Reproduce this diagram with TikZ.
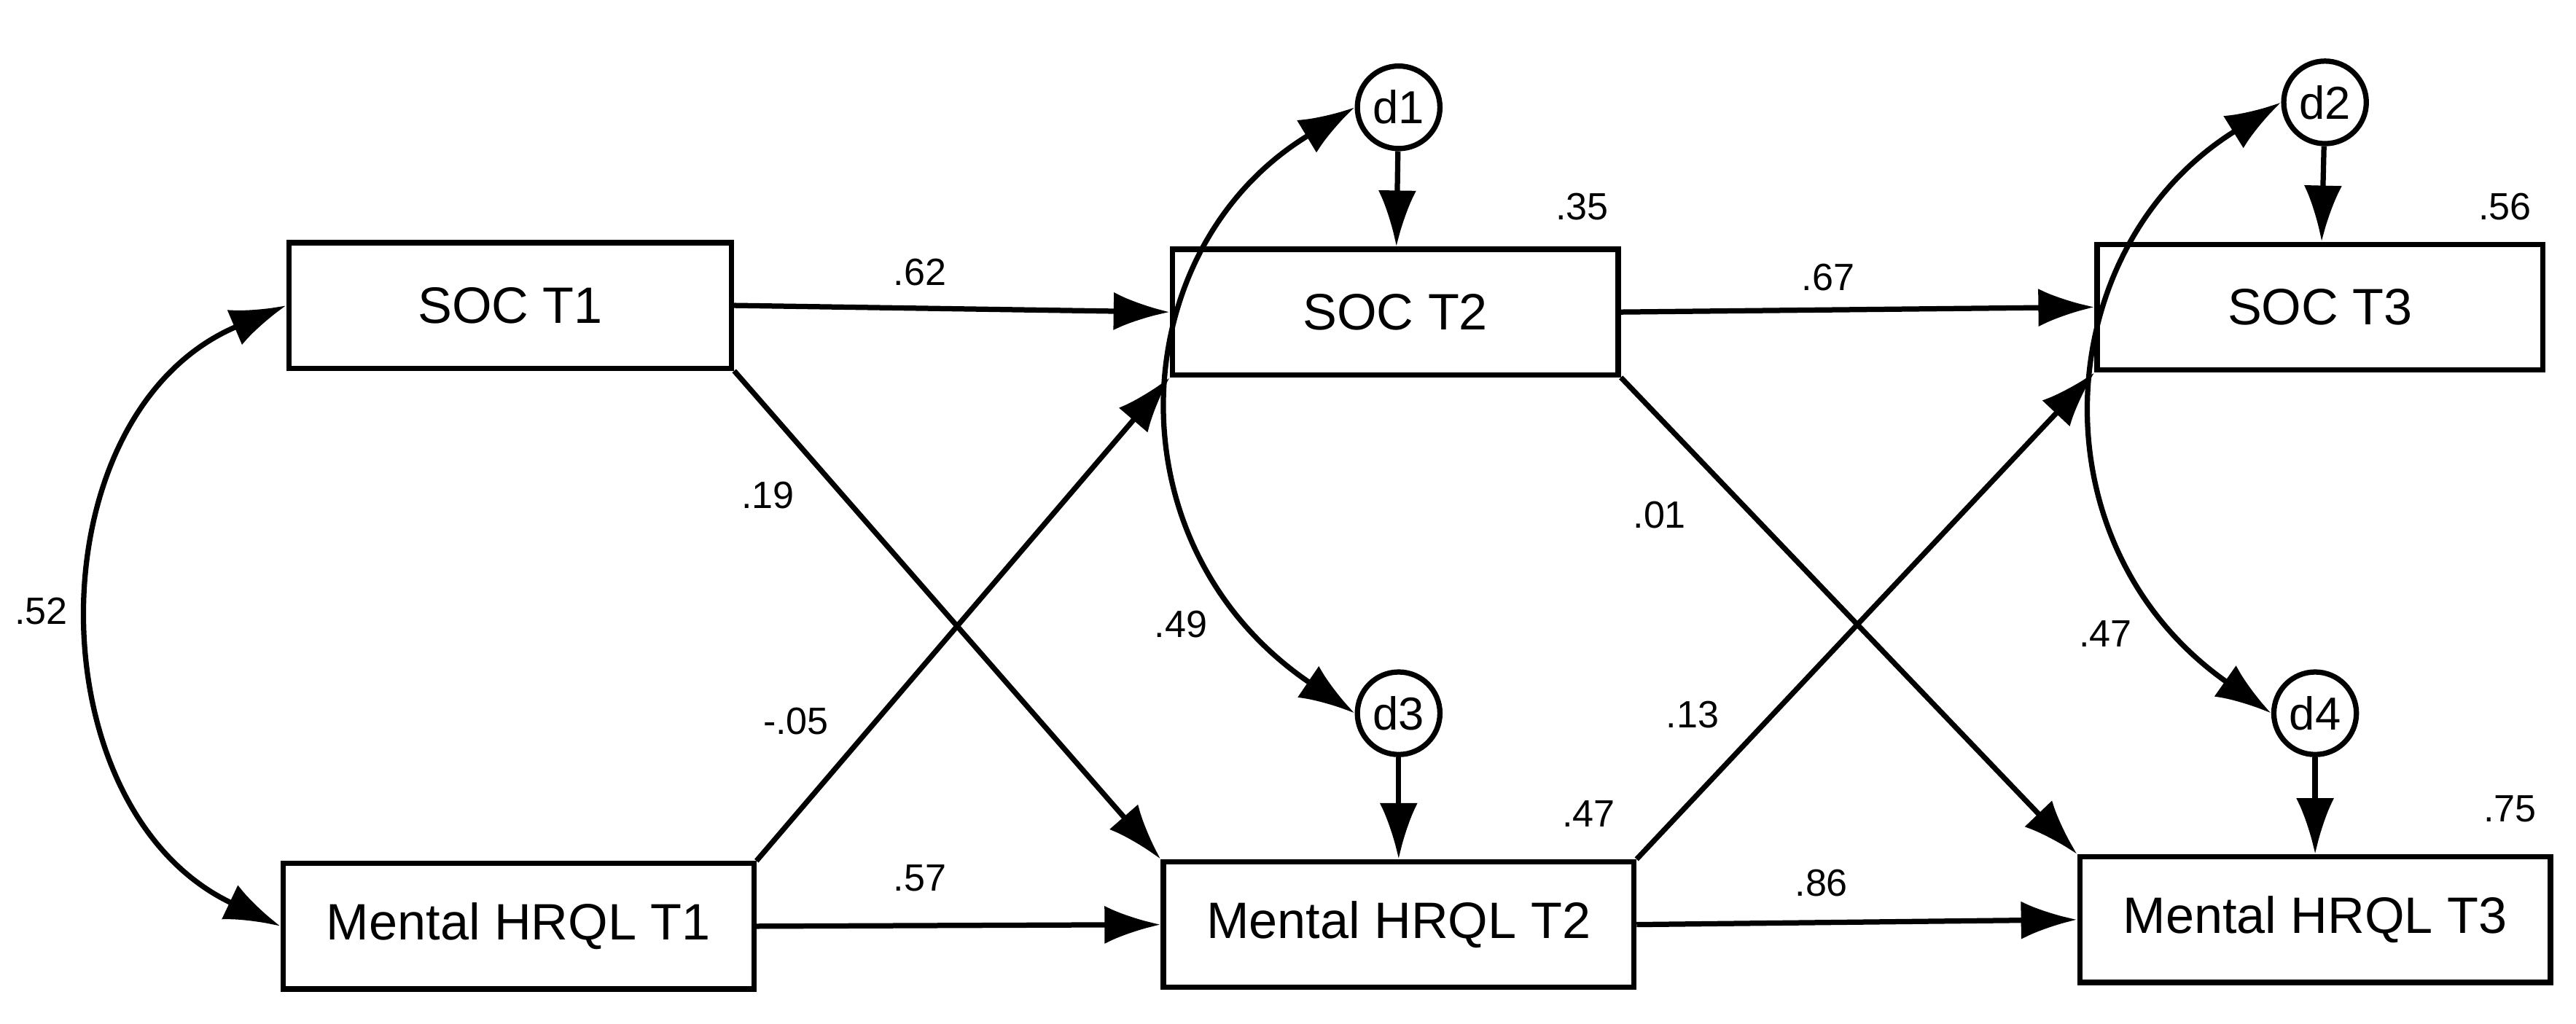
\documentclass[tikz,border=0pt]{standalone}
\usepackage{fontspec}
\setmainfont{Liberation Sans}
\usetikzlibrary{arrows.meta}
\begin{document}
\begin{tikzpicture}[x=1pt,y=-1pt,
 box/.style={draw,line width=3.2pt,minimum height=76pt,font=\fontsize{31}{34}\selectfont,inner sep=0pt},
 dd/.style={draw,circle,line width=3.2pt,minimum size=50pt,inner sep=0pt,font=\fontsize{28}{30}\selectfont},
 ar/.style={line width=3.2pt,-{Latex[length=34pt,width=23pt]}},
 dar/.style={line width=3.2pt,{Latex[length=34pt,width=23pt]}-{Latex[length=34pt,width=23pt]}},
 lb/.style={font=\fontsize{23}{26}\selectfont}]
\useasboundingbox (0,0) rectangle (1560,620);
\node[box,minimum width=268pt] (s1) at (309,185) {SOC T1};
\node[box,minimum width=285pt] (m1) at (314,561) {Mental HRQL T1};
\node[box,minimum width=270pt] (s2) at (845,189) {SOC T2};
\node[box,minimum width=285pt] (m2) at (847,560) {Mental HRQL T2};
\node[box,minimum width=270pt] (s3) at (1405,186) {SOC T3};
\node[box,minimum width=285pt] (m3) at (1402,557) {Mental HRQL T3};
\node[dd] (d1) at (847,65) {d1};
\node[dd] (d3) at (847,432) {d3};
\node[dd] (d2) at (1408,62) {d2};
\node[dd] (d4) at (1402,432) {d4};
\draw[ar] (s1.east) -- (s2.west);
\draw[ar] (s2.east) -- (s3.west);
\draw[ar] (m1.east) -- (m2.west);
\draw[ar] (m2.east) -- (m3.west);
\draw[ar] (s1.south east) -- (m2.north west);
\draw[ar] (s2.south east) -- (m3.north west);
\draw[ar] (m1.north east) -- (s2.south west);
\draw[ar] (m2.north east) -- (s3.south west);
\draw[ar] (d1) -- (s2);
\draw[ar] (d3) -- (m2);
\draw[ar] (d2) -- (s3);
\draw[ar] (d4) -- (m3);
\draw[dar] (s1.west) .. controls (20,250) and (20,490) .. (m1.west);
\draw[dar] (d1.west) .. controls (680,150) and (670,330) .. (d3.west);
\draw[dar] (d2.west) .. controls (1240,150) and (1230,330) .. (d4.west);
\node[lb] (l1) at (958,125) {.35};
\node[lb] (l2) at (1517,125) {.56};
\node[lb] (l3) at (962,493) {.47};
\node[lb] (l4) at (1520,490) {.75};
\node[lb] (l5) at (557,165) {.62};
\node[lb] (l6) at (1107,168) {.67};
\node[lb] (l7) at (465,300) {.19};
\node[lb] (l8) at (1005,312) {.01};
\node[lb] (l9) at (715,378) {.49};
\node[lb] (l10) at (1275,384) {.47};
\node[lb] (l11) at (482,437) {-.05};
\node[lb] (l12) at (1025,433) {.13};
\node[lb] (l13) at (557,532) {.57};
\node[lb] (l14) at (1103,535) {.86};
\node[lb] (l15) at (25,370) {.52};
\end{tikzpicture}
\end{document}
